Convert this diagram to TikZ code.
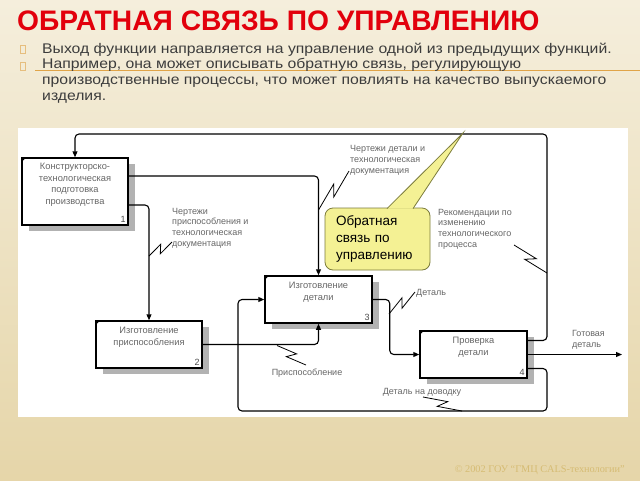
\documentclass[tikz,border=0pt]{standalone}
\usepackage{fontspec}
\setmainfont{Liberation Sans}
\newfontfamily\titlefont{Liberation Sans}
\newfontfamily\bodyfont[FakeStretch=1.125]{Liberation Sans}
\newfontfamily\footfont{Liberation Serif}
\usetikzlibrary{arrows.meta,calc,shadows}

\definecolor{slidered}{HTML}{E2000C}
\definecolor{bodygray}{HTML}{3C3C3C}
\definecolor{rulecol}{HTML}{E0A448}
\definecolor{bulcol}{HTML}{E6BE7E}
\definecolor{notefill}{HTML}{F4F194}
\definecolor{noteline}{HTML}{7C7C3C}
\definecolor{footcol}{HTML}{D6BC74}

% lightning mark between a label and its arrow
\newcommand{\labelzig}[2]{\draw[zig] (#1) -- ($(#1)!.6!(#2)!4pt!90:(#2)$) -- ($(#1)!.4!(#2)!4pt!-90:(#2)$) -- (#2);}

\begin{document}
\begin{tikzpicture}[x=1pt, y=-1pt,
    box/.style={draw, line width=1.5pt, fill=white, minimum width=106pt, minimum height=47pt, inner sep=0pt,
        drop shadow={shadow xshift=7pt, shadow yshift=-6pt, opacity=1, fill=black!30}},
    boxtext/.style={font=\fontsize{9.3}{11.4}\selectfont, text=black!60, align=center, inner sep=0pt},
    boxnum/.style={font=\fontsize{9}{10}\selectfont, text=black!70, inner sep=0pt},
    msg/.style={line width=1.1pt, rounded corners=4pt, -{Triangle[length=6pt,width=5pt]}},
    lbl/.style={font=\fontsize{9}{10.6}\selectfont, text=black!60, align=left, inner sep=0pt},
    zig/.style={line width=0.8pt},
    bul/.style={draw=bulcol, line width=0.6pt, minimum width=5pt, minimum height=8pt, inner sep=0pt},
    note/.style={fill=notefill, draw=noteline, line width=0.8pt, rounded corners=8pt, minimum width=105pt,
        minimum height=62pt, text width=83pt, inner xsep=11pt, align=left, font=\fontsize{13.5}{17}\selectfont}
]
    \useasboundingbox (0,0) rectangle (640,480);

    % Slide
    \shade[top color=footcol!25, bottom color=footcol!62] (0,0) rectangle (640,480);
    \fill[white] (18,128) rectangle (628,417);
    \draw[rulecol, line width=1pt] (35,70) -- (640,70);

    \node[anchor=base west, inner sep=0pt, text=slidered, font=\titlefont\bfseries\fontsize{28.2}{30}\selectfont]
        (ttl) at (17,30) {ОБРАТНАЯ СВЯЗЬ ПО УПРАВЛЕНИЮ};
    \node[bul] (m1) at (22.5,49) {};
    \node[bul] (m2) at (22.5,66) {};
    \node[anchor=base west, inner sep=0pt, text=bodygray, font=\bodyfont\fontsize{14}{16}\selectfont]
        (p1) at (42,53) {Выход функции направляется на управление одной из предыдущих функций.};
    \node[anchor=base west, inner sep=0pt, text=bodygray, align=left, font=\bodyfont\fontsize{14}{16}\selectfont]
        (p2) at (42,100) {Например, она может описывать обратную связь, регулирующую\\
        производственные процессы, что может повлиять на качество выпускаемого\\изделия.};

    % Functions
    \node[box, minimum height=67pt,
        label={[boxtext, anchor=north, yshift=-6pt]north:{Конструкторско-\\технологическая\\подготовка\\производства}},
        label={[boxnum, anchor=south east, xshift=-3pt, yshift=3pt]south east:1}] (b1) at (75,191.5) {};
    \node[box,
        label={[boxtext, anchor=north, yshift=-7pt]north:{Изготовление\\приспособления}},
        label={[boxnum, anchor=south east, xshift=-3pt, yshift=3pt]south east:2}] (b2) at (149,344.5) {};
    \node[box, minimum width=107pt,
        label={[boxtext, anchor=north, yshift=-7pt]north:{Изготовление\\детали}},
        label={[boxnum, anchor=south east, xshift=-3pt, yshift=3pt]south east:3}] (b3) at (318.5,299.5) {};
    \node[box, minimum width=107pt,
        label={[boxtext, anchor=north, yshift=-7pt]north:{Проверка\\детали}},
        label={[boxnum, anchor=south east, xshift=-3pt, yshift=3pt]south east:4}] (b4) at (473.5,354.5) {};
    \foreach \b in {b1,b2,b3,b4}
        \fill (\b.north west) -- ++(5,0) -- ++(-5,5) -- cycle;

    % Arrows
    \coordinate (tr) at (547,134);
    \coordinate (br) at (547,411);
    \coordinate (bl) at (238,411);
    \coordinate (out) at (622,354.5);
    \draw[msg] ([yshift=14pt]b4.east) -| (tr) -| (b1.north);
    \draw[msg] ([yshift=15.5pt]b1.east) -| (b3.north);
    \draw[msg] ([yshift=-13.5pt]b1.east) -| (b2.north);
    \draw[msg] (b2.east) -| (b3.south);
    \draw[msg] (b3.east) -- ++(17,0) |- (b4.west);
    \draw[msg] ([yshift=-14pt]b4.east) -| (br) -- (bl) |- (b3.west);
    \draw[msg] (b4.east) -- (out);

    % Labels (anchored at the last line)
    \node[lbl, anchor=base west] (l1) at (350,173) {Чертежи детали и\\технологическая\\документация};
    \node[lbl, anchor=base west] (l2) at (438,247) {Рекомендации по\\изменению\\технологического\\процесса};
    \node[lbl, anchor=base west] (l3) at (172,246) {Чертежи\\приспособления и\\технологическая\\документация};
    \node[lbl, anchor=base] (l4) at (307,375) {Приспособление};
    \node[lbl, anchor=base west] (l5) at (416,295) {Деталь};
    \node[lbl, anchor=base] (l6) at (422,394) {Деталь на доводку};
    \node[lbl, anchor=base west] (l7) at (572,347) {Готовая\\деталь};

    \coordinate (z1a) at (349,171);   \coordinate (z1b) at (318.5,210);
    \coordinate (z2a) at (514,245);   \coordinate (z2b) at (547,273);
    \coordinate (z3a) at (172,242);   \coordinate (z3b) at (149,256);
    \coordinate (z4a) at (306,365);   \coordinate (z4b) at (277,345.5);
    \coordinate (z5a) at (415,292);   \coordinate (z5b) at (389,314);
    \coordinate (z6a) at (423,397);   \coordinate (z6b) at (462,411);
    \labelzig{z1a}{z1b}
    \labelzig{z2a}{z2b}
    \labelzig{z3a}{z3b}
    \labelzig{z4a}{z4b}
    \labelzig{z5a}{z5b}
    \labelzig{z6a}{z6b}

    % Callout
    \node[note] (fb) at (377.5,239) {Обратная\\связь по\\управлению};
    \coordinate (tip) at (463,133);
    \filldraw[fill=notefill, draw=noteline, line width=0.8pt, line join=miter]
        ([xshift=9.5pt, yshift=-1pt]fb.north) -- (tip) -- ([xshift=35.5pt, yshift=-1pt]fb.north);

    % Footer
    \node[anchor=base east, inner sep=0pt, text=footcol, font=\footfont\fontsize{10.3}{12}\selectfont]
        (ft) at (625,472) {© 2002 ГОУ “ГМЦ CALS-технологии”};
\end{tikzpicture}
\end{document}
